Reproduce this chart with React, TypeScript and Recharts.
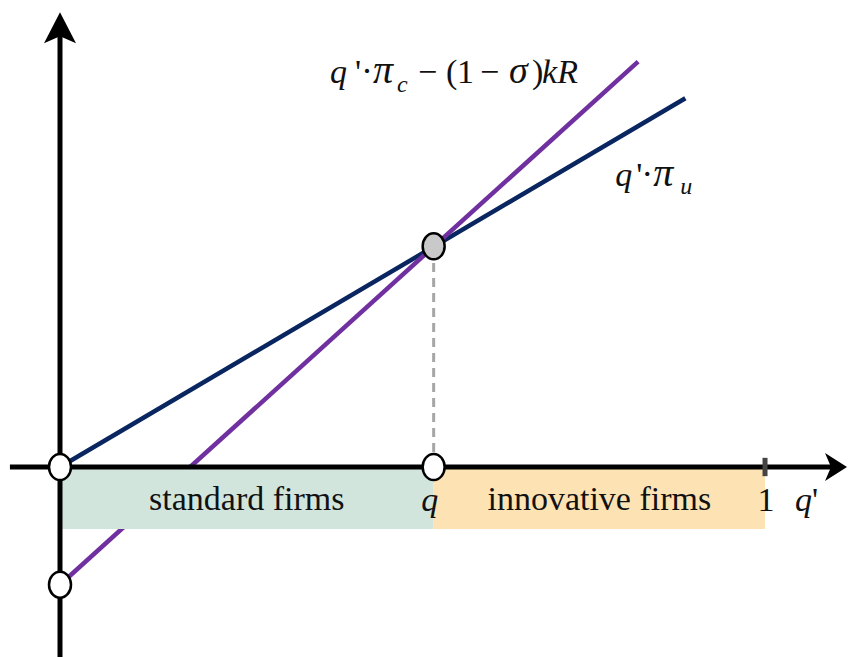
import React from "react";
import {
  ComposedChart,
  Line,
  Scatter,
  XAxis,
  YAxis,
  ReferenceLine,
  ReferenceArea,
  ReferenceDot,
} from "recharts";

// q' on the x axis (0..1), payoff on the y axis, same units
const uncertifiedLine = [
  { x: 0, y: 0 },
  { x: 0.887, y: 0.523 },
];
const certifiedLine = [
  { x: 0, y: -0.167 },
  { x: 0.82, y: 0.575 },
];
const threshold = [{ x: 0.53, y: 0.313 }];
const openMarkers = [
  { x: 0, y: 0 },
  { x: 0.53, y: 0 },
  { x: 0, y: -0.167 },
];
const regions = [
  { from: 0, to: 0.53, label: "standard firms", fill: "#d2e5dd" },
  { from: 0.53, to: 1, label: "innovative firms", fill: "#fde3b3" },
];
const regionDepth = -0.088;

const X_DOMAIN: [number, number] = [-0.0851, 1.1177];
const Y_DOMAIN: [number, number] = [-0.2695, 0.6624];

const SERIF = "'Liberation Serif', 'DejaVu Serif', serif";
const NAVY = "#0a2660";
const PURPLE = "#7030a0";
const INK = "#111";

const ellipse = (fill: string) => ({ cx, cy }: any) =>
  <ellipse cx={cx} cy={cy} rx={11} ry={13} fill={fill} stroke="#000" strokeWidth={2.5} />;

const UpArrow = ({ cx, cy }: any) => (
  <polygon
    points={`${cx},${cy} ${cx + 16},${cy + 31} ${cx},${cy + 24} ${cx - 16},${cy + 31}`}
    fill="#000"
  />
);

const RightArrow = ({ cx, cy }: any) => (
  <polygon
    points={`${cx},${cy} ${cx - 22},${cy + 14} ${cx - 16},${cy} ${cx - 22},${cy - 14}`}
    fill="#000"
  />
);

const it = { fontStyle: "italic" as const };

export default function App() {
  return (
    <div style={{ position: "absolute", left: 0, top: 0, background: "#fff" }}>
      <ComposedChart width={848} height={657} margin={{ top: 0, right: 0, bottom: 0, left: 0 }}>
        <XAxis type="number" dataKey="x" domain={X_DOMAIN} hide allowDataOverflow />
        <YAxis type="number" dataKey="y" domain={Y_DOMAIN} hide allowDataOverflow />

        <ReferenceLine
          segment={[{ x: threshold[0].x, y: 0 }, { x: threshold[0].x, y: threshold[0].y }]}
          stroke="#a6a6a6"
          strokeWidth={3}
          strokeDasharray="9 6"
        />

        <Line
          data={uncertifiedLine}
          dataKey="y"
          stroke={NAVY}
          strokeWidth={4.5}
          dot={false}
          activeDot={false}
          isAnimationActive={false}
        />
        <Line
          data={certifiedLine}
          dataKey="y"
          stroke={PURPLE}
          strokeWidth={4.5}
          dot={false}
          activeDot={false}
          isAnimationActive={false}
        />

        {regions.map((r) => (
          <ReferenceArea
            key={r.label}
            x1={r.from}
            x2={r.to}
            y1={regionDepth}
            y2={0}
            fill={r.fill}
            fillOpacity={1}
            stroke="none"
            zIndex={450}
            label={{
              value: r.label,
              position: "center",
              fontSize: 34,
              fontFamily: SERIF,
              fill: INK,
            }}
          />
        ))}

        {/* axes */}
        <ReferenceLine
          segment={[{ x: -0.071, y: 0 }, { x: 1.1, y: 0 }]}
          stroke="#000"
          strokeWidth={5}
          zIndex={500}
        />
        <ReferenceLine
          segment={[{ x: 0, y: Y_DOMAIN[0] }, { x: 0, y: 0.62 }]}
          stroke="#000"
          strokeWidth={5}
          zIndex={500}
        />
        <ReferenceLine
          segment={[{ x: 1, y: 0.013 }, { x: 1, y: -0.013 }]}
          stroke="#444"
          strokeWidth={5}
          zIndex={510}
        />
        <ReferenceDot x={0} y={0.645} r={1} shape={UpArrow} zIndex={500} />
        <ReferenceDot x={1.1163} y={0} r={1} shape={RightArrow} zIndex={500} />

        <Scatter data={openMarkers} shape={ellipse("#fff")} isAnimationActive={false} zIndex={700} />
        <Scatter data={threshold} shape={ellipse("#c9c9c9")} isAnimationActive={false} zIndex={700} />

        {/* axis labels */}
        <ReferenceDot
          x={threshold[0].x}
          y={0}
          r={1}
          zIndex={800}
          shape={({ cx, cy }: any) => (
            <text x={cx - 4} y={cy + 44} textAnchor="middle" fontFamily={SERIF} fontSize={34} fill={INK} style={it}>
              q
            </text>
          )}
        />
        <ReferenceDot
          x={1}
          y={0}
          r={1}
          zIndex={800}
          shape={({ cx, cy }: any) => (
            <g fontFamily={SERIF} fontSize={34} fill={INK}>
              <text x={cx + 1} y={cy + 44} textAnchor="middle">1</text>
              <text x={cx + 30} y={cy + 44}>
                <tspan style={it}>q</tspan>
                <tspan>'</tspan>
              </text>
            </g>
          )}
        />

        {/* series labels */}
        <ReferenceDot
          x={certifiedLine[1].x}
          y={certifiedLine[1].y}
          r={1}
          zIndex={800}
          shape={({ cx, cy }: any) => {
            const x0 = cx - 308;
            const y0 = cy + 21;
            return (
              <text y={y0} fontFamily={SERIF} fontSize={34} fill={INK}>
                <tspan x={x0} style={it}>q</tspan>
                <tspan x={x0 + 25}>'</tspan>
                <tspan x={x0 + 31} fontSize={36}>·</tspan>
                <tspan x={x0 + 43} style={it} fontSize={40}>π</tspan>
                <tspan x={x0 + 67} style={it} fontSize={24} dy={9}>c</tspan>
                <tspan x={x0 + 88} dy={-9}>−</tspan>
                <tspan x={x0 + 116}>(</tspan>
                <tspan x={x0 + 127}>1</tspan>
                <tspan x={x0 + 150}>−</tspan>
                <tspan x={x0 + 179} style={it} fontSize={38}>σ</tspan>
                <tspan x={x0 + 202}>)</tspan>
                <tspan x={x0 + 212} style={it}>kR</tspan>
              </text>
            );
          }}
        />
        <ReferenceDot
          x={uncertifiedLine[1].x}
          y={uncertifiedLine[1].y}
          r={1}
          zIndex={800}
          shape={({ cx, cy }: any) => {
            const x0 = cx - 70;
            const y0 = cy + 88;
            return (
              <text y={y0} fontFamily={SERIF} fontSize={34} fill={INK}>
                <tspan x={x0} style={it}>q</tspan>
                <tspan x={x0 + 21}>'</tspan>
                <tspan x={x0 + 26} fontSize={36}>·</tspan>
                <tspan x={x0 + 38} style={it} fontSize={40}>π</tspan>
                <tspan x={x0 + 65} style={it} fontSize={24} dy={8}>u</tspan>
              </text>
            );
          }}
        />
      </ComposedChart>
    </div>
  );
}
